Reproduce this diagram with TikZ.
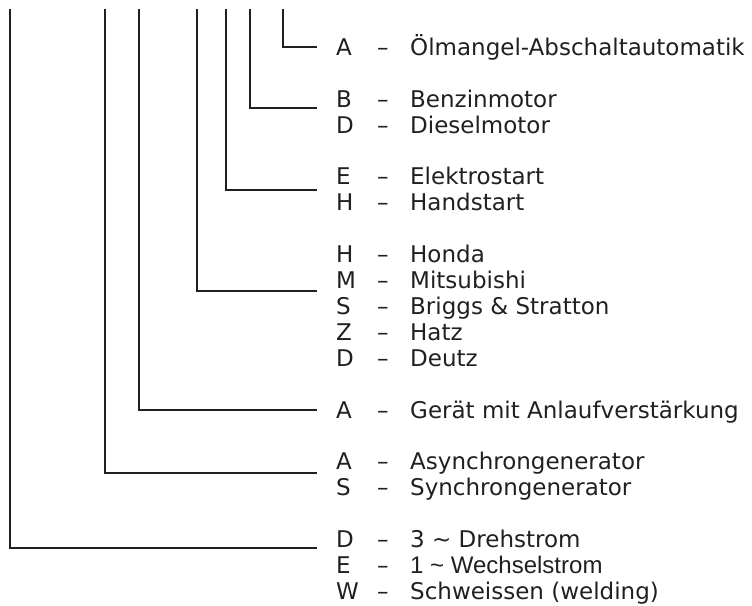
\documentclass[tikz,border=0pt]{standalone}
\usepackage{fontspec}
\setmainfont{DejaVu Sans}
\newfontfamily\narrowfont{Liberation Sans}
\usepackage{xcolor}
\usepackage{tikz}
\usetikzlibrary{positioning}
\definecolor{ink}{HTML}{231F20}
\newcommand{\keyline}[2]{\makebox[41pt][l]{#1}\makebox[33pt][l]{--}#2}

\begin{document}
\begin{tikzpicture}[x=1pt, y=-1pt,
    leader/.style={line width=2pt, color=ink},
    keyrow/.style={anchor=base west, inner sep=0pt, yshift=-8.4pt, text=ink,
      font=\fontsize{23}{26}\selectfont}] % type code key

  \useasboundingbox (0,0) rectangle (752,605);

  % code letters
  \node [keyrow] (oelA)    at (336,47)    {\keyline{A}{Ölmangel-Abschaltautomatik}};
  \node [keyrow] (benzB)   at (336,98.8)  {\keyline{B}{Benzinmotor}};
  \node [keyrow] (dieselD) at (336,124.7) {\keyline{D}{Dieselmotor}};
  \node [keyrow] (elekE)   at (336,176.5) {\keyline{E}{Elektrostart}};
  \node [keyrow] (handH)   at (336,202.4) {\keyline{H}{Handstart}};
  \node [keyrow] (hondaH)  at (336,254.2) {\keyline{H}{Honda}};
  \node [keyrow] (mitsuM)  at (336,280.1) {\keyline{M}{Mitsubishi}};
  \node [keyrow] (briggsS) at (336,306)   {\keyline{S}{Briggs \& Stratton}};
  \node [keyrow] (hatzZ)   at (336,331.9) {\keyline{Z}{Hatz}};
  \node [keyrow] (deutzD)  at (336,357.8) {\keyline{D}{Deutz}};
  \node [keyrow] (geraetA) at (336,409.6) {\keyline{A}{Gerät mit Anlaufverstärkung}};
  \node [keyrow] (asyncA)  at (336,461.4) {\keyline{A}{Asynchrongenerator}};
  \node [keyrow] (syncS)   at (336,487.3) {\keyline{S}{Synchrongenerator}};
  \node [keyrow] (drehD)   at (336,539.1) {\keyline{D}{3 \textasciitilde{} Drehstrom}};
  \node [keyrow] (wechE)   at (336,565)   {\keyline{E}{{\narrowfont\fontsize{24}{26}\selectfont 1 \textasciitilde{} Wechselstrom}}};
  \node [keyrow] (schwW)   at (336,590.9) {\keyline{W}{Schweissen (welding)}};

  % leader lines, one per code position
  \foreach \pos/\x/\y in {oil/283/47, fuel/250/108, start/226/190, make/197/291,
                          boost/139/410, gen/105/473, phase/10/548} {
    \coordinate (\pos top) at (\x,9);
    \coordinate (\pos end) at (317,\y);
    \draw [leader] (\pos top) |- (\pos end);
  }

\end{tikzpicture}
\end{document}
